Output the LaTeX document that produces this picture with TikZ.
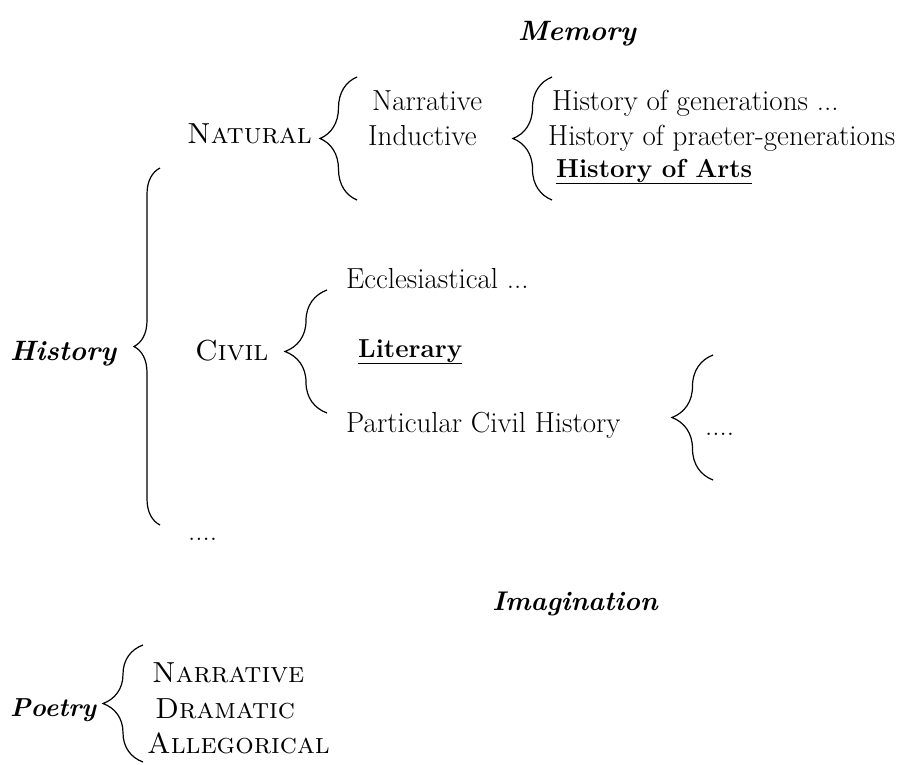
\documentclass[tikz,border=0pt]{standalone}
\usepackage{fontspec}
\usetikzlibrary{positioning, decorations.pathreplacing}

\begin{document}
\begin{tikzpicture}[
  x=1pt, y=-1pt,
  heading/.style={font=\fontsize{28}{32}\selectfont\bfseries\itshape,
                  inner sep=0pt, anchor=base},
  label/.style={font=\fontsize{28}{32}\selectfont\bfseries\itshape,
                inner sep=0pt, anchor=base west},
  branch/.style={font=\fontsize{29}{32}\selectfont\scshape,
                 inner sep=0pt, anchor=base west},
  entry/.style={font=\fontsize{29}{32}\selectfont,
                inner sep=0pt, anchor=base west},
  strong/.style={font=\fontsize{26}{32}\selectfont\bfseries,
                 inner sep=0pt, anchor=base west},
  curly/.style={draw, line width=1.2pt, decorate,
                decoration={brace, amplitude=#1}},
  curly/.default=38pt
]
\useasboundingbox (0,0) rectangle (924,764);
% Headings
\node[heading] (memory) at (577,40) {Memory};
\node[heading, font=\fontsize{27}{32}\selectfont\bfseries\itshape]
  (imagination) at (575,610) {Imagination};
% History
\node[label] (history) at (10,360) {History};
\node[branch] (natural) at (187,143) {Natural};
\node[entry] (narr) at (372,110) {Narrative};
\node[entry] (induct) at (368,145) {Inductive};
\node[entry] (gen) at (552,110) {History of generations ...};
\node[entry] (praeter) at (548,145) {History of praeter-generations};
\node[strong] (arts) at (556,177) {\underline{History of Arts}};
\node[branch] (civil) at (195,360) {Civil};
\node[entry] (eccl) at (346,288) {Ecclesiastical ...};
\node[strong] (liter) at (358,357) {\underline{Literary}};
\node[entry] (partic) at (346,432) {Particular Civil History};
\node[entry] (pdots) at (705,435) {....};
\node[entry] (hdots) at (188,540) {....};
% Poetry
\node[label, font=\fontsize{26}{32}\selectfont\bfseries\itshape]
  (poetry) at (10,716) {Poetry};
\node[branch] (pnarr) at (152,682) {Narrative};
\node[branch] (pdram) at (155,718) {Dramatic};
\node[branch] (palleg) at (147,753) {Allegorical};
% Brace ends
\coordinate (natB) at (357,200);  \coordinate (natT) at (357,77);
\coordinate (indB) at (552,200);  \coordinate (indT) at (552,77);
\coordinate (hisB) at (160,525);  \coordinate (hisT) at (160,168);
\coordinate (civB) at (327,413);  \coordinate (civT) at (327,290);
\coordinate (parB) at (713,480);  \coordinate (parT) at (713,355);
\coordinate (poeB) at (143,762);  \coordinate (poeT) at (143,645);
% Braces
\draw[curly=37pt] (natB) -- (natT);
\draw[curly=39pt] (indB) -- (indT);
\draw[curly=26pt] (hisB) -- (hisT);
\draw[curly=42pt] (civB) -- (civT);
\draw[curly=41pt] (parB) -- (parT);
\draw[curly=40pt] (poeB) -- (poeT);
\end{tikzpicture}
\end{document}
